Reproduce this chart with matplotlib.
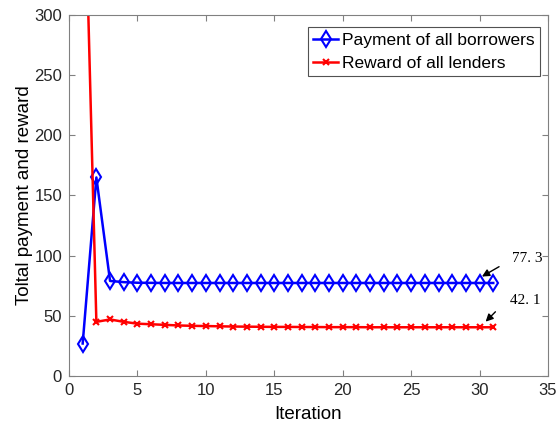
import numpy as np
import matplotlib.pyplot as plt

iters = np.arange(1, 32)
payment = [27, 165, 79, 78, 77.5, 77.4, 77.3, 77.3, 77.3, 77.3, 77.3, 77.3, 77.3, 77.3, 77.3, 77.3,
           77.3, 77.3, 77.3, 77.3, 77.3, 77.3, 77.3, 77.3, 77.3, 77.3, 77.3, 77.3, 77.3, 77.3, 77.3]
reward = [480, 45, 47, 45, 43.5, 43, 42.5, 42, 41.7, 41.5, 41.3, 41.1, 41, 40.9, 40.8, 40.8,
          40.7, 40.7, 40.6, 40.6, 40.6, 40.5, 40.5, 40.5, 40.5, 40.5, 40.5, 40.5, 40.5, 40.5, 40.5]

plt.rcParams['font.family'] = 'Liberation Sans'
fig = plt.figure(figsize=(5.6, 4.29), dpi=100)
ax = fig.add_axes([69/560, 1-376/429, (548-69)/560, (376-15)/429])

ax.plot(iters, payment, color='#0000ff', lw=1.8, marker='d', ms=8, mfc='none', mew=1.5,
        label='Payment of all borrowers')
ax.plot(iters, reward, color='#ff0000', lw=1.8, marker='x', ms=5, mew=1.5,
        label='Reward of all lenders')

ax.set_xlim(0, 35)
ax.set_ylim(0, 300)
ax.set_xticks(np.arange(0, 36, 5))
ax.set_yticks(np.arange(0, 301, 50))
ax.set_xlabel('Iteration', fontsize=13.5, labelpad=6)
ax.set_ylabel('Toltal payment and reward', fontsize=13.5, labelpad=1)
ax.tick_params(direction='in', top=True, right=True, labelsize=12, labelcolor='#262626',
               color='#808080', length=4, pad=5)
for s in ax.spines.values():
    s.set_color('#808080')

# annotations: arrows and labels
ax.annotate('', xy=(30.0, 81.5), xytext=(31.6, 92),
            arrowprops=dict(arrowstyle='-|>', color='black', lw=1.0, mutation_scale=11))
ax.text(32.4, 98, '77. 3', fontsize=11, family='Liberation Serif', va='center')
ax.annotate('', xy=(30.3, 43.5), xytext=(31.3, 55),
            arrowprops=dict(arrowstyle='-|>', color='black', lw=1.0, mutation_scale=11))
ax.text(32.2, 63, '42. 1', fontsize=11, family='Liberation Serif', va='center')

leg = ax.legend(loc='upper right', fontsize=12.5, frameon=True, fancybox=False,
                bbox_to_anchor=(0.983, 0.966), borderaxespad=0.0, handlelength=1.4,
                borderpad=0.3, labelspacing=0.45, handletextpad=0.25)
leg.get_frame().set_edgecolor('#262626')
leg.get_frame().set_linewidth(0.8)

fig.savefig('out.png', dpi=100)
